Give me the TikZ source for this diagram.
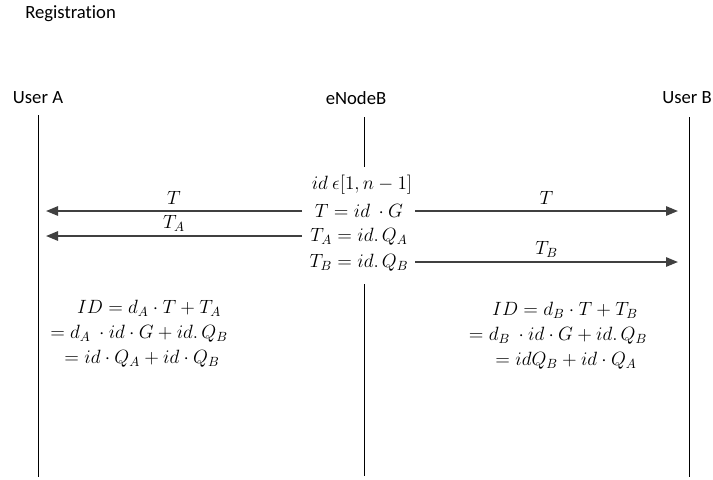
\documentclass[tikz,border=0pt]{standalone}
\usepackage{fontspec}
\setmainfont{Carlito}[Ligatures=NoCommon]
\usetikzlibrary{arrows.meta}
\begin{document}
\begin{tikzpicture}[x=0.75pt,y=-0.75pt,
  lbl/.style={font=\fontsize{14}{17}\selectfont, inner sep=0pt},
  mth/.style={font=\fontsize{14}{17}\selectfont, inner sep=0pt},
  life/.style={line width=0.75pt, black},
  msg/.style={line width=1.4pt, draw=black!75, -{Triangle[length=9pt,width=7pt]}}]
\useasboundingbox (0,0) rectangle (713,479);
% titles
\node[lbl, anchor=west] (reg) at (25,14) {Registration};
\node[lbl] (ua) at (38,98) {User A};
\node[lbl] (en) at (356,98) {eNodeB};
\node[lbl] (ub) at (687,98) {User B};
% lifelines
\coordinate (a1) at (38,115); \coordinate (a2) at (38,477);
\coordinate (e1) at (364,117); \coordinate (e2) at (364,167);
\coordinate (e3) at (364,284); \coordinate (e4) at (364,476);
\coordinate (b1) at (689,117); \coordinate (b2) at (689,477);
\draw[life] (a1) -- (a2);
\draw[life] (b1) -- (b2);
\draw[life] (e1) -- (e2);
\draw[life] (e3) -- (e4);
% middle text
\node[mth] (m1) at (362,185) {$id\ \epsilon[1,n-1]$};
\node[mth] (m2) at (359,211) {$T=id\ \cdot G$};
\node[mth] (m3) at (359,237) {$T_A=id.\,Q_A$};
\node[mth] (m4) at (359,263) {$T_B=id.\,Q_B$};
% arrow end points
\coordinate (l1) at (46,211); \coordinate (l2) at (46,236);
\coordinate (r1) at (678,211); \coordinate (r2) at (678,262);
\coordinate (s1) at (302,211); \coordinate (s2) at (302,236);
\coordinate (t1) at (415,211); \coordinate (t2) at (415,262);
\draw[msg] (s1) -- node[mth, above=4pt] (lt) {$T$} (l1);
\draw[msg] (s2) -- node[mth, above=3pt] (lta) {$T_A$} (l2);
\draw[msg] (t1) -- node[mth, above=4pt] (rt) {$T$} (r1);
\draw[msg] (t2) -- node[mth, above=3pt] (rtb) {$T_B$} (r2);
% left block
\node[mth] (la) at (149,308) {$ID=d_A\cdot T+T_A$};
\node[mth] (lb) at (139,334) {$=d_A\ \cdot id\cdot G+id.\,Q_B$};
\node[mth] (lc) at (142,359) {$=id\cdot Q_A+id\cdot Q_B$};
% right block
\node[mth] (ra) at (565,310) {$ID=d_B\cdot T+T_B$};
\node[mth] (rb) at (558,336) {$=d_B\ \cdot id\cdot G+id.\,Q_B$};
\node[mth] (rc) at (566,361) {$=idQ_B+id\cdot Q_A$};
\end{tikzpicture}
\end{document}
